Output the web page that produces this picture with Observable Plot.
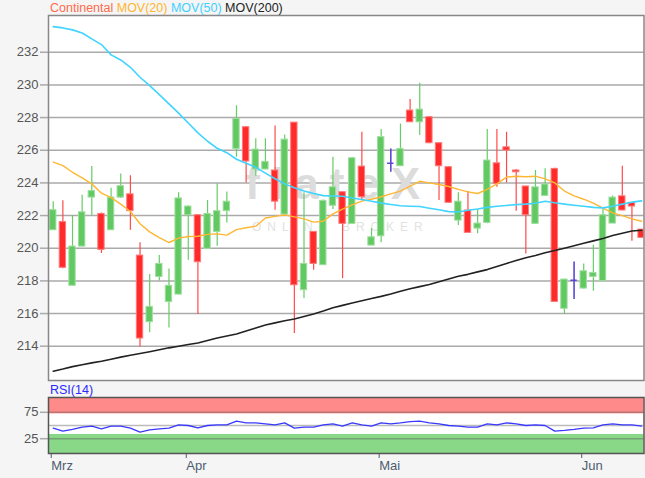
<!DOCTYPE html>
<html><head><meta charset="utf-8">
<script src="https://cdn.jsdelivr.net/npm/d3@7"></script>
<script src="https://cdn.jsdelivr.net/npm/@observablehq/plot@0.6"></script>
<style>
html,body{margin:0;padding:0;background:#f5f5f5;}
#wrap{position:relative;width:645px;height:478px;font-family:"Liberation Sans",Arial,sans-serif;overflow:hidden;background:#f5f5f5;}
#legend{position:absolute;left:50px;top:0px;font-size:12.5px;line-height:16px;white-space:nowrap;}
#rsiLabel{position:absolute;left:50px;top:382px;font-size:12.5px;line-height:16px;color:#2a2aff;}
#main{position:absolute;left:0;top:0;}
#rsi{position:absolute;left:0;top:380px;}
</style></head><body>
<div id="wrap">
<div id="main"></div><div id="rsi"></div>
<div id="legend"><span style="color:#ff6a4d">Continental</span> <span style="color:#ffb52e">MOV(20)</span> <span style="color:#3fd0ff">MOV(50)</span> <span style="color:#222">MOV(200)</span></div>
<div id="rsiLabel">RSI(14)</div>
</div>
<script>
// ---- data ----
const open  = [221.1,221.6,217.7,220.1,223.1,222.1,221.1,223.1,223.3,219.55,215.47,218.24,216.7,217.16,222.02,222.02,219.96,221.0,222.27,226.08,227.41,224.82,224.82,224.76,222.06,227.69,217.43,221.0,218.96,222.6,223.43,221.49,225.0,220.16,220.73,225.2,225.02,228.43,227.71,228.02,226.43,224.96,221.69,222.31,221.2,221.55,225.2,226.18,224.76,223.78,221.49,223.2,224.86,216.29,218.04,217.53,218.24,217.98,221.51,223.18,222.78,221.14];
const high  = [222.85,222.9,222.0,223.25,225.0,222.15,223.67,224.55,224.43,220.33,218.39,219.55,218.73,223.4,222.6,222.05,222.92,223.94,223.45,228.73,227.45,226.7,226.7,227.49,226.94,227.7,223.4,221.0,222.95,225.57,223.45,225.55,227.1,221.2,227.27,226.08,227.61,229.1,230.1,228.05,226.45,225.0,223.39,223.47,222.37,227.27,227.27,227.1,224.8,223.8,224.76,224.86,224.9,218.1,219.16,219.04,220.18,222.37,223.2,225.02,222.8,221.15];
const low   = [221.1,218.75,217.7,220.08,222.0,219.67,221.1,223.05,221.1,213.96,214.82,218.0,215.12,217.15,219.27,215.94,219.96,220.12,221.55,225.57,224.0,224.41,224.8,222.33,222.0,214.78,216.92,218.65,218.96,222.37,218.14,221.45,222.9,220.16,220.33,224.65,225.0,227.7,226.9,226.4,222.92,222.75,221.39,220.94,220.88,221.5,223.73,224.0,222.27,219.65,221.45,223.18,216.7,215.94,216.86,217.5,217.37,217.98,221.5,222.3,220.43,220.6];
const close = [222.33,218.8,220.1,222.2,223.5,219.9,223.1,223.8,222.27,214.47,216.41,219.04,217.7,223.05,222.55,219.14,222.1,222.27,222.85,227.92,225.31,226.04,225.29,222.85,226.65,217.73,219.04,219.04,222.9,223.73,221.49,225.51,223.12,220.67,226.8,225.2,226.08,227.71,228.49,226.43,225.02,222.78,222.85,220.94,221.51,225.37,223.94,225.98,224.65,222.02,223.73,223.9,216.71,218.08,218.04,218.59,218.49,222.02,223.1,222.31,222.55,220.63];
const mov20 = [225.27,225.06,224.65,224.31,223.94,223.37,223.1,222.7,222.25,221.5,221.0,220.65,220.35,220.62,220.72,220.73,220.85,220.88,220.8,221.14,221.25,221.35,221.85,221.95,222.04,221.92,221.8,221.6,221.65,222.1,222.4,222.65,222.88,223.0,223.15,223.33,223.5,223.8,224.1,224.0,223.9,223.78,223.6,223.45,223.35,223.6,223.94,224.35,224.41,224.38,224.41,224.25,224.0,223.5,223.2,223.0,222.76,222.45,222.16,222.0,221.8,221.65];
const mov50 = [233.57,233.49,233.37,233.18,232.82,232.47,231.84,231.53,231.08,230.47,229.96,229.41,228.84,228.27,227.67,227.06,226.55,226.12,225.85,225.45,225.2,224.95,224.6,224.25,223.94,223.7,223.5,223.35,223.22,223.2,223.18,223.08,222.98,222.88,222.76,222.68,222.6,222.57,222.55,222.45,222.36,222.24,222.22,222.32,222.4,222.5,222.57,222.62,222.67,222.7,222.75,222.88,222.78,222.7,222.63,222.57,222.5,222.47,222.57,222.7,222.82,222.9];
const mov200 = [212.47,212.6,212.75,212.86,212.98,213.08,213.2,213.33,213.45,213.55,213.66,213.78,213.9,214.0,214.1,214.2,214.35,214.5,214.62,214.75,214.93,215.12,215.3,215.43,215.56,215.67,215.82,215.97,216.15,216.35,216.5,216.65,216.78,216.92,217.05,217.2,217.37,217.52,217.65,217.78,217.95,218.12,218.28,218.4,218.55,218.69,218.88,219.07,219.25,219.42,219.56,219.72,219.86,220.0,220.15,220.3,220.45,220.6,220.78,220.92,221.05,221.1];
const rsi = [45,39.4,42.5,46.9,48.75,43.75,48.75,48.75,45,37.5,41.9,43.75,45,51.25,50,45.6,50,51.25,51.25,58.1,55,55,53.1,51.25,55,45,46.9,46.9,51.25,53.1,48.75,55,51.25,48.75,55,53.1,55,57.5,58.1,55,53.1,50,48.75,46.9,46.9,53.1,51.25,55,53.1,50,51.25,50,39.4,40.6,42.5,45,45.6,51.25,53.1,51.25,51.25,48.75];
const yTicks = [214,216,218,220,222,224,226,228,230,232];
const rsiTicks = [25,75];
const rsiGrid = [25,50,75];
const rsiOverbought = [{lo:72, hi:103}];
const rsiOversold = [{lo:-3, hi:33}];
const monthTicks = [0,14,34,55];
const monthLabels = ["Mrz","Apr","Mai","Jun"];

// ---- build ----
const candles = open.map((o,i)=>({i, o, h: high[i], l: low[i], c: close[i]}));
const up = candles.filter(d=>d.c>d.o), down = candles.filter(d=>d.c<d.o), doji = candles.filter(d=>d.c===d.o);
const xDomain = [-0.49, 61.25];
const hw = 0.33;
const font = "Liberation Sans, Arial, sans-serif";

const main = Plot.plot({
  width: 645, height: 382, marginTop: 15, marginBottom: 2, marginLeft: 48, marginRight: 1.5,
  style: {background: "transparent", fontFamily: font},
  x: {domain: xDomain, axis: null},
  y: {domain: [211.9, 234.25], axis: null},
  marks: [
    Plot.frame({fill: "white", stroke: null}),
    Plot.gridY(yTicks, {stroke: "#aaa", strokeOpacity: 1, strokeWidth: 1.5}),
    Plot.text(["flateX"], {frameAnchor: "middle", dx: -8, dy: -13, fontSize: 44, fontWeight: "bold", fill: "#dcdcdc"}),
    Plot.text(["ONLINE BROKER"], {frameAnchor: "middle", dx: -6, dy: 29, fontSize: 12, fill: "#e2e2e2"}),
    Plot.ruleX(up, {x: "i", y1: "l", y2: "h", stroke: "#66cc66", strokeWidth: 1.2, clip: "frame"}),
    Plot.ruleX(down, {x: "i", y1: "l", y2: "h", stroke: "#ff4a4a", strokeWidth: 1.2, clip: "frame"}),
    Plot.rect(up, {x1: d=>d.i-hw, x2: d=>d.i+hw, y1: "o", y2: "c", fill: "#62c962", stroke: "#9ede9e", strokeWidth: 1, clip: "frame"}),
    Plot.rect(down, {x1: d=>d.i-hw, x2: d=>d.i+hw, y1: "o", y2: "c", fill: "#ff2b2b", stroke: "#ff7a7a", strokeWidth: 1, clip: "frame"}),
    Plot.ruleX(doji, {x: "i", y1: "l", y2: "h", stroke: "#5a48d8", strokeWidth: 1.6, clip: "frame"}),
    Plot.ruleY(doji, {y: "o", x1: d=>d.i-hw, x2: d=>d.i+hw, stroke: "#5a48d8", strokeWidth: 1.6, clip: "frame"}),
    Plot.line(mov200, {x: (d,i)=>i, y: d=>d, stroke: "#222", strokeWidth: 1.6, clip: "frame"}),
    Plot.line(mov20, {x: (d,i)=>i, y: d=>d, stroke: "#ffb732", strokeWidth: 1.4, clip: "frame"}),
    Plot.line(mov50, {x: (d,i)=>i, y: d=>d, stroke: "#40d4ff", strokeWidth: 1.6, clip: "frame"}),
    Plot.axisY(yTicks, {tickSize: 8, tickPadding: 2, fontSize: 13, fill: "#555", stroke: "#aaa", strokeWidth: 1.5}),
    Plot.frame({stroke: "#888", strokeWidth: 1.5})
  ]
});
document.getElementById("main").appendChild(main);
d3.select(main).selectAll("text").filter(function(){return this.textContent==="flateX";}).attr("letter-spacing", "11px");
d3.select(main).selectAll("text").filter(function(){return this.textContent==="ONLINE BROKER";}).attr("letter-spacing", "6px");

const rsiPlot = Plot.plot({
  width: 645, height: 98, marginTop: 17, marginBottom: 25, marginLeft: 48, marginRight: 1.5,
  style: {background: "transparent", fontFamily: font},
  x: {domain: xDomain, axis: null},
  y: {domain: [-3, 103], axis: null},
  marks: [
    Plot.frame({fill: "white", stroke: null}),
    Plot.rect(rsiOverbought, {y1: "lo", y2: "hi", fill: "#ff8a8a"}),
    Plot.rect(rsiOversold, {y1: "lo", y2: "hi", fill: "#88d888"}),
    Plot.gridY(rsiGrid, {stroke: "#555", strokeOpacity: 0.4, strokeWidth: 1.5}),
    Plot.line(rsi, {x: (d,i)=>i, y: d=>d, stroke: "#3838ff", strokeWidth: 1.3, clip: "frame"}),
    Plot.axisY(rsiTicks, {tickSize: 8, tickPadding: 2, fontSize: 13, fill: "#555", stroke: "#aaa", strokeWidth: 1.5}),
    Plot.axisX(monthTicks, {tickSize: 5, tickPadding: 2, fontSize: 13, textAnchor: "start", dx: -2, fill: "#4d5d70", stroke: "#4d5d70", tickFormat: v => monthLabels[monthTicks.indexOf(v)]}),
    Plot.frame({stroke: "#555", strokeWidth: 1.5})
  ]
});
document.getElementById("rsi").appendChild(rsiPlot);
</script>
</body></html>
